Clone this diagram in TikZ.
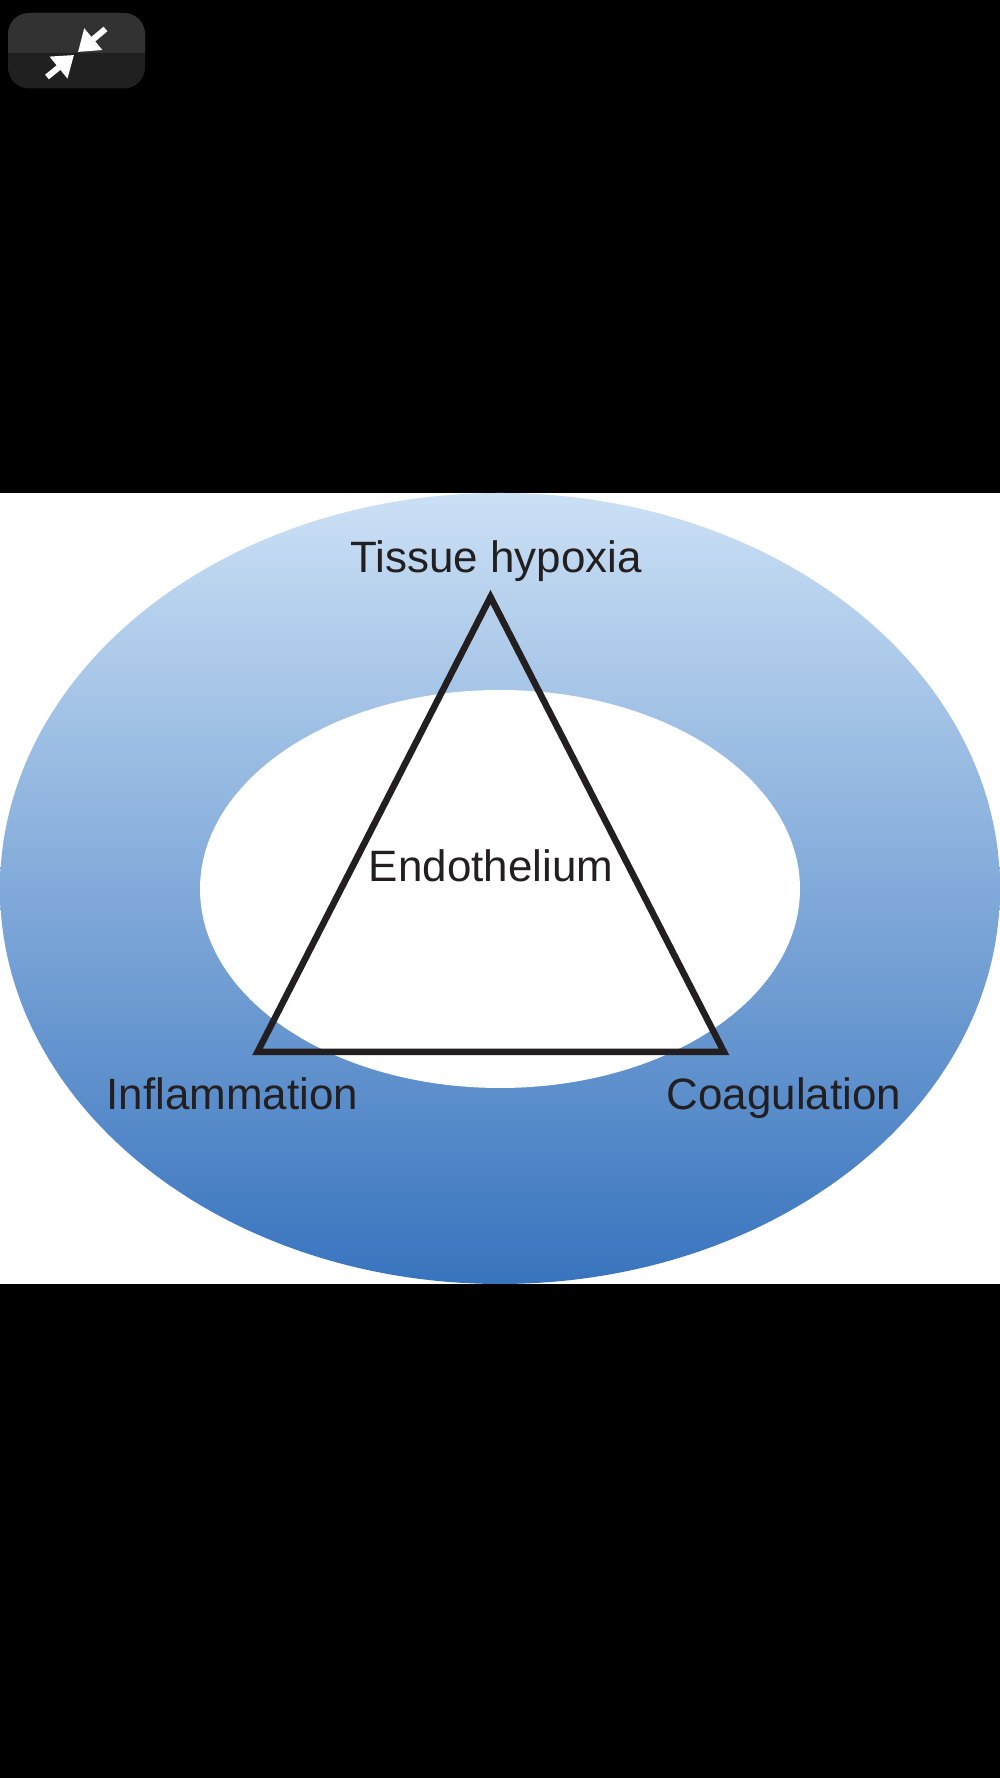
\documentclass[tikz,border=0pt]{standalone}
\usepackage{fontspec}
\setmainfont{Liberation Sans}
\usepackage{xcolor}
\usetikzlibrary{shapes.geometric,arrows.meta}
\definecolor{inktext}{RGB}{35,31,32}
\definecolor{ringtop}{RGB}{203,224,245}
\definecolor{ringmid}{RGB}{137,170,219}
\definecolor{ringlow}{RGB}{56,116,190}
\definecolor{btnhigh}{RGB}{50,50,50}
\definecolor{btnlow}{RGB}{32,32,32}

\begin{document}
\begin{tikzpicture}[
    every node/.style={font=\fontsize{12.5}{15}\selectfont, text=inktext},
    ring/.style={ellipse, inner sep=0pt, minimum width=10cm, minimum height=7.91cm, top color=ringtop, middle color=ringmid, bottom color=ringlow},
    hole/.style={ellipse, inner sep=0pt, fill=white, minimum width=6cm, minimum height=3.98cm},
    corner/.style={anchor=base},
    triangle/.style={draw=inktext, line width=1.85pt, miter limit=10},
    shrink/.style={white, line width=1.7pt, -{Triangle[length=2mm, width=2.7mm]}},
]
\useasboundingbox (0,0) rectangle (10,17.78);

% Backdrop
\fill[black] (0,0) rectangle (10,17.78);
\fill[white] (0,4.94) rectangle (10,12.85);

% Button
\fill[btnlow, rounded corners=6pt] (0.08,16.895) rectangle (1.45,17.65);
\begin{scope}
    \clip (0,17.25) rectangle (2,17.78);
    \fill[btnhigh, rounded corners=6pt] (0.08,16.895) rectangle (1.45,17.65);
\end{scope}
\coordinate (upperend) at (1.055,17.49);
\coordinate (uppertip) at (0.78,17.26);
\coordinate (lowerend) at (0.47,17.01);
\coordinate (lowertip) at (0.74,17.23);
\draw[shrink] (upperend) -- (uppertip);
\draw[shrink] (lowerend) -- (lowertip);

% Ellipses
\node[ring] (outer) at (5,8.895) {};
\node[hole] (inner) at (5,8.89) {};

% Triangle
\coordinate (apex) at (4.905,11.81);
\coordinate (left) at (2.575,7.26);
\coordinate (right) at (7.24,7.26);
\draw[triangle] (apex) -- (left) -- (right) -- cycle;

% Labels
\node[corner] (hypoxia) at (4.96,12.05) {Tissue hypoxia};
\node[corner] (endothelium) at (4.91,8.96) {Endothelium};
\node[corner] (inflammation) at (2.325,6.68) {Inflammation};
\node[corner] (coagulation) at (7.84,6.68) {Coagulation};

\end{tikzpicture}
\end{document}
